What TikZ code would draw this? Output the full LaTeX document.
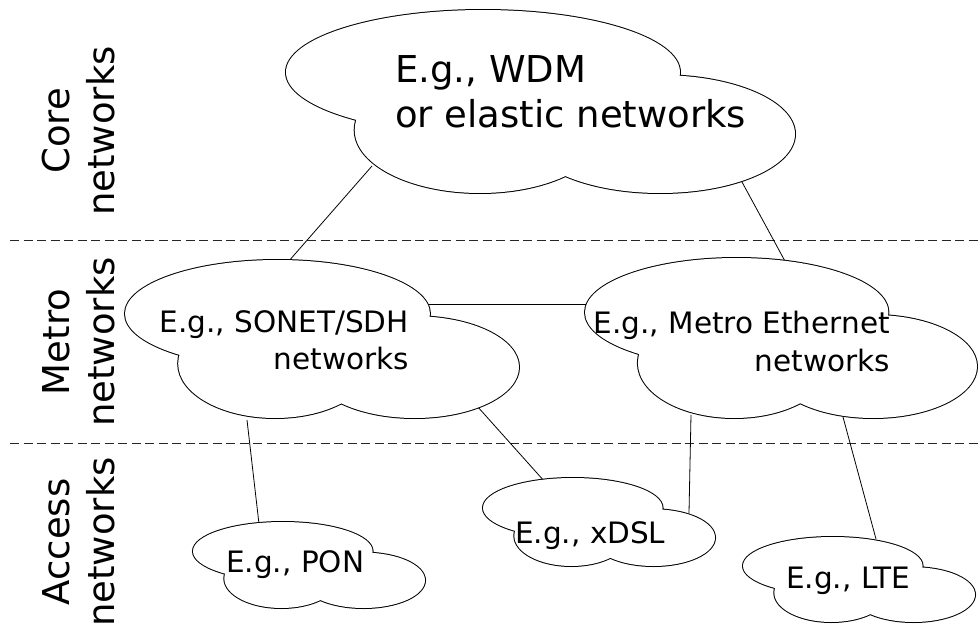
\documentclass[tikz,border=0pt]{standalone}
\usepackage{fontspec}
\setmainfont{DejaVu Sans}
\tikzset{
  cloudedge/.style={draw=black, line width=2pt},
  link/.style={draw=black, line width=0.8pt},
  layerline/.style={draw=black!85, line width=0.9pt, dash pattern=on 9pt off 4.5pt},
  bigtext/.style={font=\fontsize{37}{45}\selectfont, inner sep=0pt},
  midtext/.style={font=\fontsize{29.5}{37}\selectfont, inner sep=0pt},
}
% cloud made of three overlapping ellipses: left, top, width, height
\newcommand\netcloud[4]{%
  \draw[cloudedge]
    (#1+0.387*#3,#2+0.34*#4) ellipse [x radius=0.387*#3pt, y radius=0.34*#4pt]
    (#1+0.381*#3,#2+0.656*#4) ellipse [x radius=0.246*#3pt, y radius=0.344*#4pt]
    (#1+0.735*#3,#2+0.678*#4) ellipse [x radius=0.265*#3pt, y radius=0.322*#4pt];
  \fill[white]
    (#1+0.387*#3,#2+0.34*#4) ellipse [x radius=0.387*#3pt, y radius=0.34*#4pt]
    (#1+0.381*#3,#2+0.656*#4) ellipse [x radius=0.246*#3pt, y radius=0.344*#4pt]
    (#1+0.735*#3,#2+0.678*#4) ellipse [x radius=0.265*#3pt, y radius=0.322*#4pt];
}
\begin{document}
\begin{tikzpicture}[x=1pt, y=-1pt]
\useasboundingbox (0,0) rectangle (978,626);

% layer separators
\coordinate (sepA-w) at (10,240);
\coordinate (sepA-e) at (978,240);
\coordinate (sepB-w) at (10,443);
\coordinate (sepB-e) at (978,443);
\draw[layerline] (sepA-w) -- (sepA-e);
\draw[layerline] (sepB-w) -- (sepB-e);

% attachment points on the clouds
\coordinate (core-sw) at (372,166);
\coordinate (core-se) at (742,182);
\coordinate (sonet-n) at (288,262);
\coordinate (sonet-e) at (424,304);
\coordinate (sonet-s) at (247,420);
\coordinate (sonet-se) at (477,406);
\coordinate (eth-n) at (786,263);
\coordinate (eth-w) at (588,304);
\coordinate (eth-s) at (691,415);
\coordinate (eth-se) at (843,417);
\coordinate (pon-n) at (259,524);
\coordinate (xdsl-n) at (545,482);
\coordinate (xdsl-e) at (689,513);
\coordinate (lte-n) at (876,539);

% links
\draw[link] (core-sw) -- (sonet-n);
\draw[link] (core-se) -- (eth-n);
\draw[link] (sonet-e) -- (eth-w);
\draw[link] (sonet-s) -- (pon-n);
\draw[link] (sonet-se) -- (xdsl-n);
\draw[link] (eth-s) -- (xdsl-e);
\draw[link] (eth-se) -- (lte-n);

% clouds
\netcloud{286}{10}{509}{183}
\netcloud{125}{260}{394}{158}
\netcloud{585}{258}{392}{160}
\netcloud{193}{522}{232}{86}
\netcloud{483}{478}{232}{88}
\netcloud{743}{537}{232}{85}

% cloud labels
\node[bigtext, anchor=base west] (core-a) at (395,83) {E.g., WDM};
\node[bigtext, anchor=base west] (core-b) at (395,128) {or elastic networks};
\node[midtext, anchor=base east] (sonet-a) at (409,332) {E.g., SONET/SDH};
\node[midtext, anchor=base east] (sonet-b) at (409,369) {networks};
\node[midtext, anchor=base east] (eth-a) at (890,333) {E.g., Metro Ethernet};
\node[midtext, anchor=base east] (eth-b) at (890,371) {networks};
\node[midtext, anchor=base west] (pon-t) at (226,572) {E.g., PON};
\node[midtext, anchor=base west] (xdsl-t) at (515,543) {E.g., xDSL};
\node[midtext, anchor=base west] (lte-t) at (786,588) {E.g., LTE};

% layer names
\node[bigtext, anchor=base, rotate=90] (core-l1) at (69,131) {Core};
\node[bigtext, anchor=base, rotate=90] (core-l2) at (114,131) {networks};
\node[bigtext, anchor=base, rotate=90] (metro-l1) at (69,342) {Metro};
\node[bigtext, anchor=base, rotate=90] (metro-l2) at (114,342) {networks};
\node[bigtext, anchor=base, rotate=90] (acc-l1) at (69,542) {Access};
\node[bigtext, anchor=base, rotate=90] (acc-l2) at (114,542) {networks};
\end{tikzpicture}
\end{document}
